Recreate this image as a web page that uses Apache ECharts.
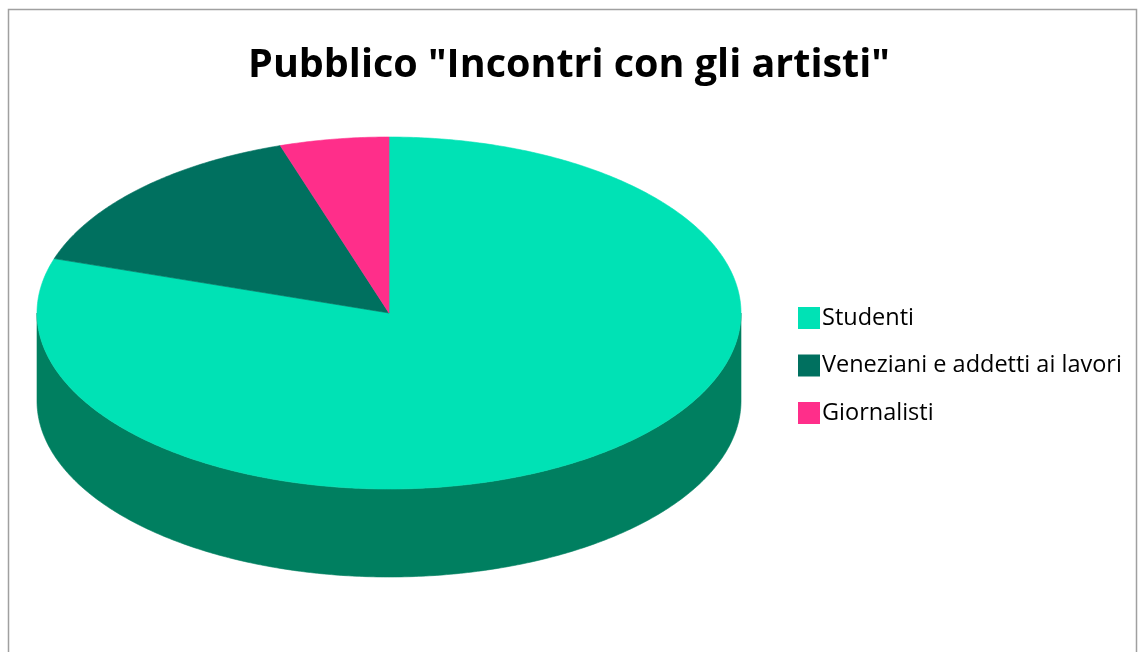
<!DOCTYPE html>
<html>
<head>
<meta charset="utf-8">
<script src="https://cdn.jsdelivr.net/npm/echarts@6/dist/echarts.min.js"></script>
<style>
html,body{margin:0;padding:0;background:#fff;}
#chart{width:1138px;height:652px;}
</style>
</head>
<body>
<div id="chart"></div>
<script>
const titleText = 'Pubblico "Incontri con gli artisti"';
const categories = ['Studenti', 'Veneziani e addetti ai lavori', 'Giornalisti'];
const values = [80, 15, 5];
const topColors = ['#00e2b5', '#00705f', '#ff2e8a'];
const sideColors = ['#007f60', '#004a3f', '#b01f60'];

const total = values.reduce((a, b) => a + b, 0);
const cumStart = [];
let acc = 0;
values.forEach(v => { cumStart.push(acc); acc += v; });

// 3D-pie layout
const CX = 389, CY = 313, RX = 352, RY = 176, DEPTH = 88;

function pt(theta, dy) {
  return [CX + RX * Math.sin(theta), CY - RY * Math.cos(theta) + (dy || 0)];
}
function arc(a, b, dy) {
  const pts = [];
  const n = Math.max(2, Math.ceil(Math.abs(b - a) / 0.01));
  for (let k = 0; k <= n; k++) pts.push(pt(a + (b - a) * k / n, dy));
  return pts;
}

function makeRender(idx) {
  return function (params, api) {
    const v = api.value(0);
    const a0 = cumStart[idx] / total * Math.PI * 2;
    const a1 = a0 + v / total * Math.PI * 2;
    const children = [];
    const wa = Math.max(a0, Math.PI / 2), wb = Math.min(a1, Math.PI * 1.5);
    if (wa < wb) {
      const wall = arc(wa, wb, 0).concat(arc(wb, wa, DEPTH));
      children.push({
        type: 'polygon',
        shape: { points: wall },
        style: { fill: sideColors[idx], stroke: sideColors[idx], lineWidth: 0.6 }
      });
    }
    const top = [[CX, CY]].concat(arc(a0, a1, 0));
    children.push({
      type: 'polygon',
      shape: { points: top },
      style: { fill: topColors[idx], stroke: topColors[idx], lineWidth: 0.6 }
    });
    return { type: 'group', children: children };
  };
}

const series = categories.map((name, i) => ({
  type: 'custom',
  name: name,
  coordinateSystem: 'none',
  itemStyle: { color: topColors[i] },
  data: [[values[i]]],
  renderItem: makeRender(i),
  silent: true
}));

const chart = echarts.init(document.getElementById('chart'), null, { renderer: 'canvas' });
chart.setOption({
  animation: false,
  backgroundColor: '#fff',
  title: {
    text: titleText,
    left: 'center',
    top: 41,
    textStyle: { fontFamily: 'Open Sans', fontWeight: 'bold', fontSize: 39.5, color: '#000' }
  },
  legend: {
    orient: 'vertical',
    left: 793,
    top: 301,
    icon: 'rect',
    itemWidth: 22,
    itemHeight: 22,
    itemGap: 23.5,
    data: categories,
    textStyle: { fontFamily: 'Open Sans', fontSize: 23.5, lineHeight: 22, color: '#000', padding: [0, 0, 0, -3] },
    selectedMode: false
  },
  graphic: [{
    type: 'rect',
    shape: { x: 8.5, y: 9.5, width: 1128, height: 660 },
    style: { fill: 'none', stroke: '#a0a0a0', lineWidth: 1.5 },
    silent: true
  }],
  series: series
});
</script>
</body>
</html>
